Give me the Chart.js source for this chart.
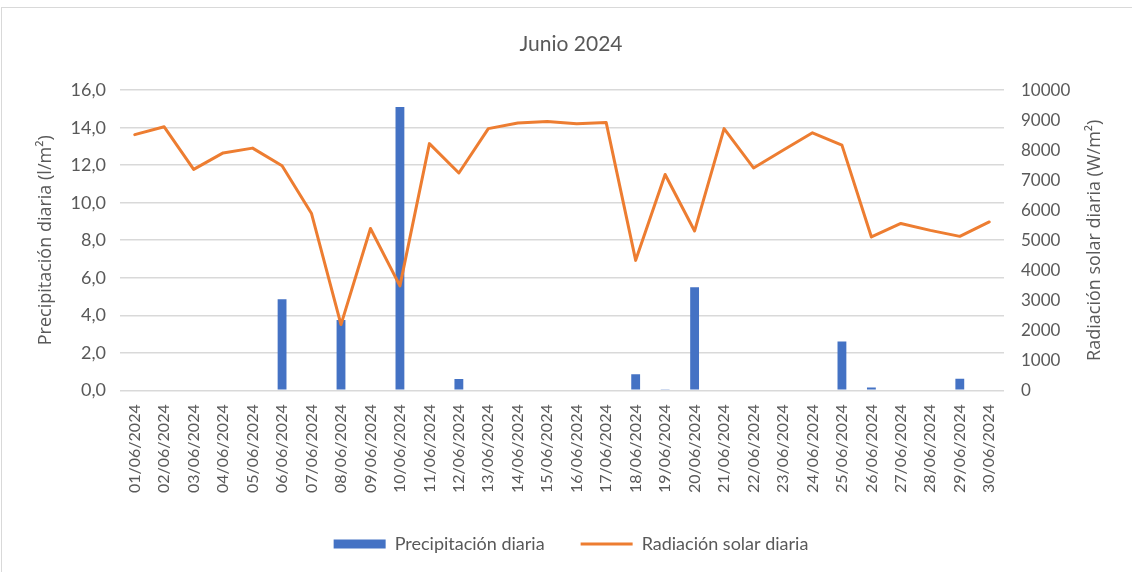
<!DOCTYPE html>
<html lang="es">
<head>
<meta charset="utf-8">
<title>Junio 2024</title>
<script src="https://cdn.jsdelivr.net/npm/chart.js@4.4.1/dist/chart.umd.min.js"></script>
<style>
  html, body { margin: 0; padding: 0; background: #fff; overflow: hidden; }
  #marco {
    position: absolute; left: 1px; top: 7px;
    width: 1140px; height: 580px;
    border: 1px solid #d9d9d9;
  }
  #grafica { display: block; }
</style>
</head>
<body>
<div id="marco"><canvas id="grafica" width="1130" height="564"></canvas></div>
<script>
// ── Datos ────────────────────────────────────────────────────────────────────
const DIAS = [
  '01/06/2024', '02/06/2024', '03/06/2024', '04/06/2024', '05/06/2024',
  '06/06/2024', '07/06/2024', '08/06/2024', '09/06/2024', '10/06/2024',
  '11/06/2024', '12/06/2024', '13/06/2024', '14/06/2024', '15/06/2024',
  '16/06/2024', '17/06/2024', '18/06/2024', '19/06/2024', '20/06/2024',
  '21/06/2024', '22/06/2024', '23/06/2024', '24/06/2024', '25/06/2024',
  '26/06/2024', '27/06/2024', '28/06/2024', '29/06/2024', '30/06/2024',
];

// Precipitación diaria (l/m²)
const PRECIPITACION = [
  0, 0, 0, 0, 0, 4.85, 0, 3.75, 0, 15.1,
  0, 0.6, 0, 0, 0, 0, 0, 0.85, 0.05, 5.5,
  0, 0, 0, 0, 2.6, 0.15, 0, 0, 0.62, 0,
];

// Radiación solar diaria (W/m²)
const RADIACION = [
  8520, 8780, 7360, 7910, 8070, 7480, 5890, 2190, 5390, 3480,
  8220, 7240, 8720, 8910, 8960, 8880, 8920, 4330, 7190, 5310,
  8720, 7410, 8000, 8580, 8170, 5110, 5560, 5330, 5130, 5610,
];

const EJE_IZQ = { min: 0, max: 16, paso: 2 };
const EJE_DER = { min: 0, max: 10000, paso: 1000 };
const TITULO_DER = 'Radiación solar diaria (W/m²)';

const GRIS_TEXTO = '#595959';
const GRIS_REJILLA = '#d9d9d9';
const AZUL = '#4472C4';
const NARANJA = '#ED7D31';

const fmtComa = v => v.toFixed(1).replace('.', ',');

// Chart.js gira el título del eje derecho al revés; aquí se dibuja de abajo arriba
const tituloDerecho = {
  id: 'tituloDerecho',
  afterDraw(chart) {
    const s = chart.scales.yRad;
    const ctx = chart.ctx;
    ctx.save();
    ctx.font = '18px "Open Sans"';
    ctx.fillStyle = GRIS_TEXTO;
    ctx.textAlign = 'center';
    ctx.textBaseline = 'middle';
    ctx.translate(s.right - 15, (chart.chartArea.top + chart.chartArea.bottom) / 2);
    ctx.rotate(-Math.PI / 2);
    ctx.fillText(TITULO_DER, 0, 0);
    ctx.restore();
  },
};

new Chart(document.getElementById('grafica'), {
  type: 'bar',
  data: {
    labels: DIAS,
    datasets: [
      {
        type: 'bar',
        label: 'Precipitación diaria',
        data: PRECIPITACION,
        yAxisID: 'yPrec',
        backgroundColor: AZUL,
        borderWidth: 0,
        barPercentage: 0.6,
        categoryPercentage: 0.5,
        pointStyle: 'rect',
        order: 2,
      },
      {
        type: 'line',
        label: 'Radiación solar diaria',
        data: RADIACION,
        yAxisID: 'yRad',
        borderColor: NARANJA,
        backgroundColor: NARANJA,
        borderWidth: 3,
        pointRadius: 0,
        tension: 0,
        pointStyle: 'line',
        borderJoinStyle: 'round',
        borderCapStyle: 'round',
        order: 1,
      },
    ],
  },
  plugins: [tituloDerecho],
  options: {
    responsive: false,
    animation: false,
    layout: { padding: { left: 30, right: 22, top: 0, bottom: 9 } },
    plugins: {
      tooltip: { enabled: false },
      title: {
        display: true,
        text: 'Junio 2024',
        color: GRIS_TEXTO,
        font: { family: 'Lato', size: 21, weight: 'normal' },
        padding: { top: 24, bottom: 33 },
      },
      legend: {
        display: true,
        position: 'bottom',
        labels: {
          usePointStyle: true,
          pointStyleWidth: 52,
          boxHeight: 9,
          padding: 36,
          color: GRIS_TEXTO,
          font: { family: 'Lato', size: 18 },
          sort: (a, b) => a.datasetIndex - b.datasetIndex,
        },
      },
    },
    scales: {
      x: {
        grid: { display: false },
        border: { display: false },
        ticks: {
          color: GRIS_TEXTO,
          font: { family: 'Lato', size: 16 },
          minRotation: 90,
          maxRotation: 90,
          autoSkip: false,
          padding: 6,
        },
      },
      yPrec: {
        position: 'left',
        min: EJE_IZQ.min,
        max: EJE_IZQ.max,
        afterFit: s => { s.width = 88; },
        grid: { color: GRIS_REJILLA, lineWidth: 1.5, drawTicks: false },
        border: { display: false },
        ticks: {
          stepSize: EJE_IZQ.paso,
          color: GRIS_TEXTO,
          font: { family: 'Lato', size: 18 },
          padding: 14,
          callback: v => fmtComa(v),
        },
        title: {
          display: true,
          text: 'Precipitación diaria (l/m²)',
          color: GRIS_TEXTO,
          font: { family: 'Open Sans', size: 18 },
          padding: 3,
        },
      },
      yRad: {
        position: 'right',
        min: EJE_DER.min,
        max: EJE_DER.max,
        afterFit: s => { s.width = 106; },
        grid: { display: false, drawTicks: false },
        border: { display: false },
        ticks: {
          stepSize: EJE_DER.paso,
          color: GRIS_TEXTO,
          font: { family: 'Lato', size: 17 },
          padding: 17,
          callback: v => String(v),
        },
      },
    },
  },
});
</script>
</body>
</html>
